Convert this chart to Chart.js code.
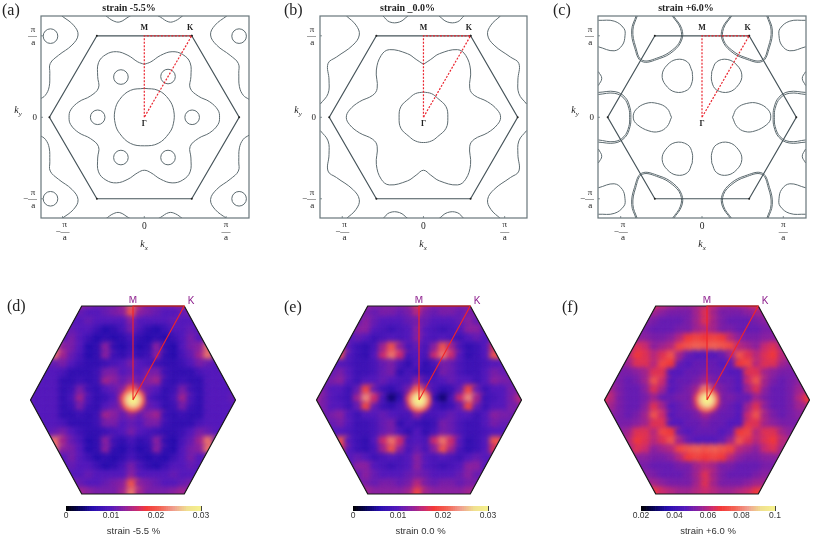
<!DOCTYPE html>
<html>
<head>
<meta charset="utf-8">
<script src="https://cdn.jsdelivr.net/npm/chart.js@4"></script>
<style>
  html, body { margin: 0; background: #fff; overflow: hidden; }
  #page { position: relative; width: 813px; height: 536px; overflow: hidden; }
  canvas { position: absolute; }
  .tag { position: absolute; font: 16px "Liberation Serif", serif; color: #222; }
  .k { position: absolute; font: italic 10px "Liberation Serif", serif; color: #222; transform: translate(-50%, -50%); }
  .k sub { font-size: 7px; }
</style>
</head>
<body>
<div id="page"></div>
<script>
// Fermi contours, k in units of pi/a, flat x,y lists
var hexX = [0.58, 1.16, 0.58, -0.58, -1.16, -0.58, 0.58];
var hexY = [1, 0, -1, -1, 0, 1, 1];
var pathX = [0, 0, 0.58, 0];
var pathY = [0, 1, 1, 0];
var kTicks = [-1, 0, 1];
var hspNames = ["M", "K", "Γ"];
var hspX = [0, 0.56, 0];
var hspY = [1.1, 1.1, -0.08];

var aGamma = [0,.355,.17,.33,.3,.22,.36,.08,.355,-.08,.3,-.2,.17,-.32,0,-.35,-.17,-.32,-.3,-.2,-.355,-.08,-.36,.08,-.3,.22,-.17,.33,0,.355];
var aFlower = [0,.65,.08,.68,.2,.76,.34,.805,.47,.77,.56,.67,.57,.5,.56,.36,.66,.26,.8,.19,.9,.09,.92,0,
  .9,-.09,.8,-.19,.66,-.26,.56,-.36,.57,-.5,.56,-.67,.47,-.77,.34,-.805,.2,-.76,.08,-.68,0,-.65,
  -.08,-.68,-.2,-.76,-.34,-.805,-.47,-.77,-.56,-.67,-.57,-.5,-.56,-.36,-.66,-.26,-.8,-.19,-.9,-.09,-.92,0,
  -.9,.09,-.8,.19,-.66,.26,-.56,.36,-.57,.5,-.56,.67,-.47,.77,-.34,.805,-.2,.76,-.08,.68,0,.65];
var aSideTR = [1.01,1.245,.865,1.13,.81,1.01,.885,.885,1.05,.76,1.15,.66,1.155,.54,1.163,.375,1.21,.27,1.28,.22];
var aSideTL = [-1.01,1.245,-.865,1.13,-.81,1.01,-.885,.885,-1.05,.76,-1.15,.66,-1.155,.54,-1.163,.375,-1.21,.27,-1.28,.22];
var aSideBR = [1.01,-1.245,.865,-1.13,.81,-1.01,.885,-.885,1.05,-.76,1.15,-.66,1.155,-.54,1.163,-.375,1.21,-.27,1.28,-.22];
var aSideBL = [-1.01,-1.245,-.865,-1.13,-.81,-1.01,-.885,-.885,-1.05,-.76,-1.15,-.66,-1.155,-.54,-1.163,-.375,-1.21,-.27,-1.28,-.22];
var aTopL = [-.47,1.245,-.38,1.184,-.3,1.17,-.196,1.23,-.167,1.245];
var aTopR = [.47,1.245,.38,1.184,.3,1.17,.196,1.23,.167,1.245];
var aBotL = [-.47,-1.245,-.38,-1.184,-.3,-1.17,-.196,-1.23,-.167,-1.245];
var aBotR = [.47,-1.245,.38,-1.184,.3,-1.17,.196,-1.23,.167,-1.245];
var aPocketX = [-.286,.29,-.57,.585,-.286,.29,-1.147,1.159,-1.147,1.159];
var aPocketY = [.494,.5,0,0,-.494,-.494,.996,.996,-1,-1];

var bGamma = [0,.31,.1,.29,.175,.233,.278,.13,.3,0,.278,-.135,.175,-.237,.1,-.29,0,-.31,-.1,-.29,-.175,-.237,-.278,-.135,-.3,0,-.278,.13,-.175,.233,-.1,.29,0,.31];
var bFlower = [0,.65,.09,.71,.196,.78,.42,.83,.52,.76,.58,.58,.57,.355,.625,.27,.79,.19,.91,.09,.95,0,
  .91,-.09,.79,-.19,.625,-.27,.57,-.355,.58,-.58,.52,-.76,.42,-.83,.196,-.78,.09,-.71,0,-.65,
  -.09,-.71,-.196,-.78,-.42,-.83,-.52,-.76,-.58,-.58,-.57,-.355,-.625,-.27,-.79,-.19,-.91,-.09,-.95,0,
  -.91,.09,-.79,.19,-.625,.27,-.57,.355,-.58,.58,-.52,.76,-.42,.83,-.196,.78,-.09,.71,0,.65];
var bSideTR = [.95,1.245,.83,1.13,.79,1.01,.87,.885,1.07,.74,1.175,.66,1.163,.457,1.175,.29,1.27,.163];
var bSideTL = [-.95,1.245,-.83,1.13,-.79,1.01,-.87,.885,-1.07,.74,-1.175,.66,-1.163,.457,-1.175,.29,-1.27,.163];
var bSideBR = [.95,-1.245,.83,-1.13,.79,-1.01,.87,-.885,1.07,-.74,1.175,-.66,1.163,-.457,1.175,-.29,1.27,-.163];
var bSideBL = [-.95,-1.245,-.83,-1.13,-.79,-1.01,-.87,-.885,-1.07,-.74,-1.175,-.66,-1.163,-.457,-1.175,-.29,-1.27,-.163];
var bTopL = [-.5,1.245,-.416,1.17,-.294,1.17,-.19,1.245];
var bTopR = [.5,1.245,.416,1.17,.294,1.17,.19,1.245];
var bBotL = [-.5,-1.245,-.416,-1.17,-.294,-1.17,-.19,-1.245];
var bBotR = [.5,-1.245,.416,-1.17,.294,-1.17,.19,-1.245];

var cPocketR = [.375,0,.43,.11,.55,.17,.69,.17,.816,.09,.845,-.01,.796,-.09,.653,-.167,.53,-.175,.43,-.114,.375,0];
var cPocketL = [-.375,0,-.43,.11,-.55,.17,-.69,.17,-.816,.09,-.845,-.01,-.796,-.09,-.653,-.167,-.53,-.175,-.43,-.114,-.375,0];
var cPocketUR = [.12,.56,.18,.68,.31,.71,.43,.64,.49,.52,.45,.4,.33,.31,.18,.335,.12,.44,.12,.56];
var cPocketUL = [-.12,.56,-.18,.68,-.31,.71,-.43,.64,-.49,.52,-.45,.4,-.33,.31,-.18,.335,-.12,.44,-.12,.56];
var cPocketLR = [.12,-.56,.18,-.68,.31,-.71,.43,-.64,.49,-.52,.45,-.4,.33,-.31,.18,-.335,.12,-.44,.12,-.56];
var cPocketLL = [-.12,-.56,-.18,-.68,-.31,-.71,-.43,-.64,-.49,-.52,-.45,-.4,-.33,-.31,-.18,-.335,-.12,-.44,-.12,-.56];
var cLobeTR = [.367,1.245,.265,1.09,.265,.947,.367,.824,.53,.735,.735,.70,.816,.865,.85,1.07,.796,1.245];
var cLobeTR2 = [.352,1.245,.25,1.09,.25,.947,.355,.81,.525,.72,.74,.685,.83,.86,.865,1.07,.81,1.245];
var cLobeTL = [-.367,1.245,-.265,1.09,-.265,.947,-.367,.824,-.53,.735,-.735,.70,-.816,.865,-.85,1.07,-.796,1.245];
var cLobeTL2 = [-.352,1.245,-.25,1.09,-.25,.947,-.355,.81,-.525,.72,-.74,.685,-.83,.86,-.865,1.07,-.81,1.245];
var cLobeBR = [.367,-1.245,.265,-1.09,.265,-.947,.367,-.824,.53,-.735,.735,-.70,.816,-.865,.85,-1.07,.796,-1.245];
var cLobeBR2 = [.352,-1.245,.25,-1.09,.25,-.947,.355,-.81,.525,-.72,.74,-.685,.83,-.86,.865,-1.07,.81,-1.245];
var cLobeBL = [-.367,-1.245,-.265,-1.09,-.265,-.947,-.367,-.824,-.53,-.735,-.735,-.70,-.816,-.865,-.85,-1.07,-.796,-1.245];
var cLobeBL2 = [-.352,-1.245,-.25,-1.09,-.25,-.947,-.355,-.81,-.525,-.72,-.74,-.685,-.83,-.86,-.865,-1.07,-.81,-1.245];
var cSideR = [1.274,.28,1.08,.295,.96,.233,.9,.11,.89,0,.9,-.114,.96,-.237,1.08,-.298,1.274,-.278];
var cSideR2 = [1.274,.305,1.07,.315,.945,.245,.885,.115,.875,0,.885,-.115,.945,-.245,1.07,-.315,1.274,-.305];
var cSideL = [-1.274,.28,-1.08,.295,-.96,.233,-.9,.11,-.89,0,-.9,-.114,-.96,-.237,-1.08,-.298,-1.274,-.278];
var cSideL2 = [-1.274,.305,-1.07,.315,-.945,.245,-.885,.115,-.875,0,-.885,-.115,-.945,-.245,-1.07,-.315,-1.274,-.305];
var cCornerTR = [1.274,1.19,1.08,1.18,.96,1.09,.947,1,.98,.885,1.08,.816,1.274,.865];
var cCornerTL = [-1.274,1.19,-1.08,1.18,-.96,1.09,-.947,1,-.98,.885,-1.08,.816,-1.274,.865];
var cCornerBR = [1.274,-1.19,1.08,-1.18,.96,-1.09,.947,-1,.98,-.885,1.08,-.816,1.274,-.865];
var cCornerBL = [-1.274,-1.19,-1.08,-1.18,-.96,-1.09,-.947,-1,-.98,-.885,-1.08,-.816,-1.274,-.865];
var cEdgeUL = [-1.274,.56,-1.233,.478,-1.274,.39];
var cEdgeUR = [1.274,.56,1.233,.478,1.274,.39];
var cEdgeLL = [-1.274,-.56,-1.233,-.478,-1.274,-.39];
var cEdgeLR = [1.274,-.56,1.233,-.478,1.274,-.39];

// Heat maps, one character per cell, base 36 level on the colour bar (0 to 30), top row first
var heatD = [
  ".....dedcccemecccded.....",
  ".....cbaabcdkdcbaabc.....",
  "....aaabaaaadaaaabaaa....",
  "....abaa8679c9768aaba....",
  "...baca86767976768acab...",
  "...mdca67d76867d76acdm...",
  "..cmeb967d87978d769bemc..",
  "..abca87789aca98778acba..",
  ".aaa97778ccabacc87779aaa.",
  ".aaa77878edbdbde87877aaa.",
  ".aaa78c87abdkdba78c87aaa.",
  "baaa79e978afpfa879e97aaab",
  ".aaa78c87abdkdba78c87aaa.",
  ".aaa77878edbdbde87877aaa.",
  ".aaa97778ccabacc87779aaa.",
  "..abca87789aca98778acba..",
  "..cmeb967d87978d769bemc..",
  "...mdca67d76867d76acdm...",
  "...baca86767976768acab...",
  "....abaa8679c9768aaba....",
  "....aaabaaaadaaaabaaa....",
  ".....cbaabcdkdcbaabc.....",
  ".....dedcccemecccded....."
];
var heatE = [
  ".....feddddejeddddef.....",
  ".....ccbccbcfcbccbcc.....",
  ".....bdbaaabcbaaabdb.....",
  "....adda989ada989adda....",
  "....aba89a9ada9a98aba....",
  "...ha879ekd9b9dke978ah...",
  "...ka87agmg9a9gmga78ak...",
  "..aa9889bc97a79cb9889aa..",
  "..bca889bc79878cb988acb..",
  "..cda8aaba99d99abaa8adc..",
  ".caa8bjb879clc978bjb8aac.",
  "fca98eng947eqe749gne89acf",
  ".caa8bjb879clc978bjb8aac.",
  "..cda8aaba99d99abaa8adc..",
  "..bca889bc79878cb988acb..",
  "..aa9889bc97a79cb9889aa..",
  "...ka87agmg9a9gmga78ak...",
  "...ha879ekd9b9dke978ah...",
  "....aba89a9ada9a98aba....",
  "....adda989ada989adda....",
  ".....bdbaaabcbaaabdb.....",
  ".....ccbccbcfcbccbcc.....",
  ".....feddddejeddddef....."
];
var heatF = [
  ".....kigfeefgfeefgik.....",
  ".....eedcccehecccdee.....",
  ".....dcbbbcehecbbbcd.....",
  "....ccbbbccefeccbbbcc....",
  "....ddccdfijijifdccdd....",
  "...ehgdefjklklkjfedghe...",
  "...fihfhkebaaabekhfhif...",
  "..dehhfjibabbbabijfhhed..",
  "..ccdehhaabbcbbaahhedcc..",
  ".dcbcekgabbcecbbagkecbcd.",
  ".ecbbdheabcenecbaehdbbce.",
  "ifcbbcebbccfufccbbecbbcfi",
  ".ecbbdheabcenecbaehdbbce.",
  ".dcbcekgabbcecbbagkecbcd.",
  "..ccdehhaabbcbbaahhedcc..",
  "..dehhfjibabbbabijfhhed..",
  "...fihfhkebaaabekhfhif...",
  "...ehgdefjklklkjfedghe...",
  "....ddccdfijijifdccdd....",
  "....ccbbbccefeccbbbcc....",
  ".....dcbbbcehecbbbcd.....",
  ".....eedcccehecccdee.....",
  ".....kigfeefgfeefgik....."
];
// centre hot spot: levels of the three nested glows
var spotD = [20, 25, 30];
var spotE = [20, 25, 30];
var spotF = [20, 25, 30];

var heatHexX = [0.5, 1, 0.5, -0.5, -1, -0.5, 0.5];
var heatHexY = [1, 0, -1, -1, 0, 1, 1];
var heatPathX = [0, 0, 0.5, 0];
var heatPathY = [0, 1, 1, 0];
var heatNames = ["M", "K"];
var heatNameX = [0, 0.566];
var heatNameY = [1.06, 1.05];

var barLevels = [0,.5,1,1.5,2,2.5,3,3.5,4,4.5,5,5.5,6,6.5,7,7.5,8,8.5,9,9.5,10,10.5,11,11.5,12,12.5,13,13.5,14,14.5,15,15.5,16,16.5,17,17.5,18,18.5,19,19.5,20,20.5,21,21.5,22,22.5,23,23.5,24,24.5,25,25.5,26,26.5,27,27.5,28,28.5,29,29.5,30];
var barTicksLow = [0, 0.01, 0.02, 0.03];
var barTicksHigh = [0.02, 0.04, 0.06, 0.08, 0.1];

var cmapPos = [0, 3, 6, 10, 13, 16, 18, 21, 24, 27, 30];
var cmapCol = [[0,0,0],[8,4,90],[40,14,175],[86,26,188],[140,34,160],[205,44,110],[243,58,58],[243,100,85],[240,160,144],[240,224,144],[246,242,140]];

var serif = '"Liberation Serif", serif';
var sans = '"Liberation Sans", Arial, sans-serif';
var page = document.getElementById("page");

function levelColor(v) {
  var i = 0;
  while (i < cmapPos.length - 2 && v > cmapPos[i + 1]) i++;
  var t = Math.min(1, Math.max(0, (v - cmapPos[i]) / (cmapPos[i + 1] - cmapPos[i])));
  var a = cmapCol[i], b = cmapCol[i + 1];
  return "rgb(" + Math.round(a[0] + (b[0] - a[0]) * t) + "," + Math.round(a[1] + (b[1] - a[1]) * t) + "," + Math.round(a[2] + (b[2] - a[2]) * t) + ")";
}

function flat(list) {
  var out = [];
  for (var i = 0; i < list.length; i += 2) out.push({ x: list[i], y: list[i + 1] });
  return out;
}
function zip(xs, ys) {
  return xs.map(function (x, i) { return { x: x, y: ys[i] }; });
}
function addCanvas(left, top, w, h) {
  var c = document.createElement("canvas");
  c.width = w; c.height = h;
  c.style.left = left + "px"; c.style.top = top + "px";
  c.style.width = w + "px"; c.style.height = h + "px";
  page.appendChild(c);
  return c;
}
function addText(cls, left, top, html) {
  var d = document.createElement("div");
  d.className = cls;
  d.style.left = left + "px"; d.style.top = top + "px";
  d.innerHTML = html;
  page.appendChild(d);
}

// frame and inward ticks round the contour plots
var framePlugin = {
  id: "frame",
  afterDraw: function (chart) {
    var a = chart.chartArea, ctx = chart.ctx;
    ctx.save();
    ctx.strokeStyle = "#68767b";
    ctx.lineWidth = 1.2;
    ctx.strokeRect(a.left, a.top, a.right - a.left, a.bottom - a.top);
    ctx.lineWidth = 0.8;
    kTicks.forEach(function (v) {
      var px = chart.scales.x.getPixelForValue(v), py = chart.scales.y.getPixelForValue(v);
      ctx.beginPath();
      ctx.moveTo(px, a.bottom); ctx.lineTo(px, a.bottom - 2);
      ctx.moveTo(a.left, py); ctx.lineTo(a.left + 2, py);
      ctx.stroke();
    });
    ctx.restore();
  }
};
function namesPlugin(names, xs, ys, font, color) {
  return {
    id: "names",
    afterDatasetsDraw: function (chart) {
      var ctx = chart.ctx;
      ctx.save();
      ctx.font = font; ctx.fillStyle = color;
      ctx.textAlign = "center"; ctx.textBaseline = "middle";
      names.forEach(function (n, i) {
        ctx.fillText(n, chart.scales.x.getPixelForValue(xs[i]), chart.scales.y.getPixelForValue(ys[i]));
      });
      ctx.restore();
    }
  };
}

function fermiPanel(o) {
  var boxW = o.right - o.left;
  var canvas = addCanvas(o.left - 32, 0, boxW + 64, 250);
  var sets = o.curves.map(function (c) {
    return { data: flat(c), showLine: true, borderColor: "#5d6b70", borderWidth: 1, tension: 0.4, pointRadius: 0 };
  });
  sets.unshift({ data: zip(hexX, hexY), showLine: true, borderColor: "#46545a", borderWidth: 1.2, tension: 0, pointRadius: 1, pointBackgroundColor: "#222", pointBorderWidth: 0 });
  sets.unshift({ data: zip(pathX, pathY), showLine: true, borderColor: "#ea2630", borderWidth: 1.2, borderDash: [2, 1.5], tension: 0, pointRadius: 0 });
  if (o.pocketX) {
    sets.push({ data: zip(o.pocketX, o.pocketY), pointStyle: "circle", pointRadius: 7.3, pointBorderColor: "#5d6b70", pointBorderWidth: 1, pointBackgroundColor: "rgba(0,0,0,0)" });
  }
  return new Chart(canvas.getContext("2d"), {
    type: "scatter",
    data: { datasets: sets },
    plugins: [framePlugin, namesPlugin(hspNames, hspX, hspY, "bold 8px " + serif, "#222")],
    options: {
      responsive: false,
      animation: false,
      layout: { autoPadding: false, padding: { right: 32 } },
      plugins: {
        legend: { display: false },
        tooltip: { enabled: false },
        title: { display: true, text: o.title, color: "#222", font: { family: serif, size: 10, weight: "bold", lineHeight: 1.2 }, padding: { top: 2, bottom: 2 } }
      },
      scales: {
        x: {
          min: o.xmin, max: o.xmax,
          afterFit: function (s) { s.height = 32; },
          afterBuildTicks: function (s) { s.ticks = kTicks.map(function (v) { return { value: v }; }); },
          grid: { display: false, drawTicks: false },
          border: { display: false },
          ticks: {
            padding: 4, autoSkip: false, maxRotation: 0, color: "#222",
            font: function (ctx) {
              return ctx.tick && ctx.tick.value === 0
                ? { family: serif, size: 9.5, lineHeight: 1.05 }
                : { family: serif, size: 9, lineHeight: 0.68 };
            },
            callback: function (v) {
              if (v === 1) return ["π", "—", "a"];
              if (v === -1) return ["\u2007π", "−—", "\u2007a"];
              return "0";
            }
          }
        },
        y: {
          min: -1.236, max: 1.243,
          afterFit: function (s) { s.width = 32; },
          afterBuildTicks: function (s) { s.ticks = kTicks.map(function (v) { return { value: v }; }); },
          grid: { display: false, drawTicks: false },
          border: { display: false },
          ticks: {
            padding: 4, autoSkip: false, color: "#222",
            font: { family: serif, size: 9, lineHeight: 0.72 },
            callback: function (v) {
              if (v === 1) return ["π\u2009", "—", "a\u2009"];
              if (v === -1) return ["π\u2009", "−—", "a\u2009"];
              return "0";
            }
          }
        }
      }
    }
  });
}

// soft cells clipped to the hexagon, the library draws them one by one
var heatPlugin = {
  id: "heatClip",
  hexPath: function (chart) {
    var ctx = chart.ctx;
    ctx.beginPath();
    heatHexX.forEach(function (x, i) {
      var px = chart.scales.x.getPixelForValue(x), py = chart.scales.y.getPixelForValue(heatHexY[i]);
      if (i === 0) ctx.moveTo(px, py); else ctx.lineTo(px, py);
    });
    ctx.closePath();
  },
  beforeDatasetsDraw: function (chart) {
    var ctx = chart.ctx;
    ctx.save();
    this.hexPath(chart);
    ctx.fillStyle = chart.options.plugins.heatClip.base;
    ctx.fill();
    ctx.restore();
  },
  beforeDatasetDraw: function (chart, args) {
    if (!chart.data.datasets[args.index].soft) return;
    var ctx = chart.ctx;
    ctx.save();
    this.hexPath(chart);
    ctx.clip();
    ctx.filter = "blur(2.4px)";
  },
  afterDatasetDraw: function (chart, args) {
    if (chart.data.datasets[args.index].soft) chart.ctx.restore();
  }
};

function heatPanel(o) {
  var w = 226, h = 208;
  var canvas = addCanvas(Math.round(o.cx - w / 2), 296, w, h);
  var cells = [], colors = [];
  o.rows.forEach(function (row, r) {
    row.split("").forEach(function (ch, c) {
      if (ch === ".") return;
      cells.push({ x: (c - 12) / 12, y: (11 - r) / 11 });
      colors.push(levelColor(parseInt(ch, 36)));
    });
  });
  var spot = o.spot.map(function () { return { x: 0, y: 0 }; });
  return new Chart(canvas.getContext("2d"), {
    type: "scatter",
    data: {
      datasets: [
        { data: zip(heatPathX, heatPathY), showLine: true, borderColor: "#f02428", borderWidth: 1.1, tension: 0, pointRadius: 0 },
        { data: zip(heatHexX, heatHexY), showLine: true, borderColor: "#1a1a1a", borderWidth: 1.2, tension: 0, pointRadius: 0 },
        { data: spot, soft: true, pointStyle: "circle", pointRadius: [12, 9, 6], pointBorderWidth: 0, pointBackgroundColor: o.spot.map(levelColor) },
        { data: cells, soft: true, pointStyle: "rect", pointRadius: 9, pointBorderWidth: 0, pointBackgroundColor: colors }
      ]
    },
    plugins: [heatPlugin, namesPlugin(heatNames, heatNameX, heatNameY, "10px " + sans, "#8c1c8c")],
    options: {
      responsive: false,
      animation: false,
      layout: { autoPadding: false },
      plugins: { legend: { display: false }, tooltip: { enabled: false }, heatClip: { base: o.base } },
      scales: {
        x: { display: false, min: -w / 2 / 102.5, max: w / 2 / 102.5 },
        y: { display: false, min: -h / 2 / 94, max: h / 2 / 94 }
      }
    }
  });
}

function colorBar(o) {
  var pad = 22;
  var canvas = addCanvas(Math.round(o.left - pad), 502, Math.round(o.right - o.left + 2 * pad), 34);
  var span = o.max - o.min;
  return new Chart(canvas.getContext("2d"), {
    type: "bar",
    data: {
      datasets: [{
        data: barLevels.map(function (v) { return { x: o.min + span * v / 30, y: 1 }; }),
        backgroundColor: barLevels.map(levelColor),
        barPercentage: 1, categoryPercentage: 1, borderWidth: 0
      }]
    },
    options: {
      responsive: false,
      animation: false,
      layout: { padding: { left: pad, right: pad, top: 4 } },
      plugins: { legend: { display: false }, tooltip: { enabled: false } },
      scales: {
        x: {
          type: "linear", min: o.min, max: o.max, offset: false,
          afterFit: function (s) { s.height = 25; },
          afterBuildTicks: function (s) { s.ticks = o.ticks.map(function (v) { return { value: v }; }); },
          grid: { offset: false, color: "#111", lineWidth: 0.8, drawTicks: false },
          border: { display: false },
          ticks: {
            padding: 0, maxRotation: 0, autoSkip: false, color: "#333",
            font: { family: sans, size: 8.5 },
            callback: function (v) { return String(+v.toFixed(3)); }
          },
          title: { display: true, text: o.title, color: "#333", font: { family: sans, size: 9.5, lineHeight: 1 }, padding: { top: 4, bottom: 0 } }
        },
        y: { display: false, min: 0, max: 1 }
      }
    }
  });
}

fermiPanel({
  title: "strain -5.5%", left: 41, right: 249, xmin: -1.263, xmax: 1.28,
  curves: [aGamma, aFlower, aSideTR, aSideTL, aSideBR, aSideBL, aTopL, aTopR, aBotL, aBotR],
  pocketX: aPocketX, pocketY: aPocketY
});
fermiPanel({
  title: "strain _0.0%", left: 320, right: 527, xmin: -1.274, xmax: 1.275,
  curves: [bGamma, bFlower, bSideTR, bSideTL, bSideBR, bSideBL, bTopL, bTopR, bBotL, bBotR]
});
fermiPanel({
  title: "strain +6.0%", left: 598, right: 806, xmin: -1.279, xmax: 1.279,
  curves: [cPocketR, cPocketL, cPocketUR, cPocketUL, cPocketLR, cPocketLL,
    cLobeTR, cLobeTR2, cLobeTL, cLobeTL2, cLobeBR, cLobeBR2, cLobeBL, cLobeBL2,
    cSideR, cSideR2, cSideL, cSideL2, cCornerTR, cCornerTL, cCornerBR, cCornerBL,
    cEdgeUL, cEdgeUR, cEdgeLL, cEdgeLR]
});

heatPanel({ cx: 133, rows: heatD, spot: spotD, base: "#5a22b8" });
heatPanel({ cx: 419, rows: heatE, spot: spotE, base: "#5a22b8" });
heatPanel({ cx: 707, rows: heatF, spot: spotF, base: "#6a26b4" });

colorBar({ left: 66, right: 201, min: 0, max: 0.03, ticks: barTicksLow, title: "strain -5.5 %" });
colorBar({ left: 353, right: 488, min: 0, max: 0.03, ticks: barTicksLow, title: "strain 0.0 %" });
colorBar({ left: 641, right: 775, min: 0.02, max: 0.1, ticks: barTicksHigh, title: "strain +6.0 %" });

addText("tag", 2, 1, "(a)");
addText("tag", 284, 1, "(b)");
addText("tag", 553, 1, "(c)");
addText("tag", 7, 297, "(d)");
addText("tag", 284, 298, "(e)");
addText("tag", 562, 298, "(f)");
addText("k", 144, 245, "k<sub>x</sub>");
addText("k", 423, 245, "k<sub>x</sub>");
addText("k", 702, 245, "k<sub>x</sub>");
addText("k", 18, 111, "k<sub>y</sub>");
addText("k", 298, 111, "k<sub>y</sub>");
addText("k", 575, 111, "k<sub>y</sub>");
</script>
</body>
</html>
